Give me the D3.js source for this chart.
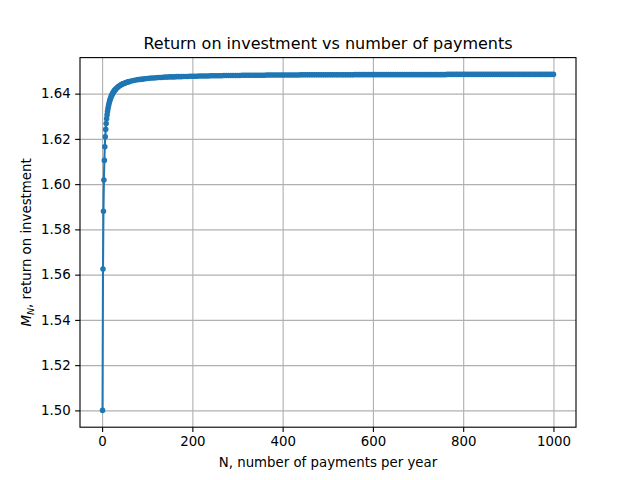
<!DOCTYPE html>
<html>
<head>
<meta charset="utf-8">
<script src="https://cdn.jsdelivr.net/npm/d3@7"></script>
<style>
  body { margin: 0; background: #fff; }
  svg { font-family: "DejaVu Sans", sans-serif; }
</style>
</head>
<body>
<svg id="chart" width="640" height="480"></svg>
<script>
// N, number of payments per year
var payments = [
  1, 2, 3, 4, 5, 6, 7, 8, 9, 10, 11, 12, 13, 14, 15, 16, 17, 18, 19, 20,
  21, 22, 23, 24, 25, 26, 27, 28, 29, 30, 32, 34, 36, 38, 40, 42, 44, 46, 48, 50,
  52, 54, 56, 58, 60, 65, 70, 75, 80, 85, 90, 95, 100, 105, 110, 115, 120, 125, 130, 135,
  140, 145, 150, 155, 160, 165, 170, 175, 180, 185, 190, 195,
  200, 205, 210, 215, 220, 225, 230, 235, 240, 245, 250, 255, 260, 265, 270, 275, 280, 285, 290, 295,
  300, 305, 310, 315, 320, 325, 330, 335, 340, 345, 350, 355, 360, 365, 370, 375, 380, 385, 390, 395,
  400, 405, 410, 415, 420, 425, 430, 435, 440, 445, 450, 455, 460, 465, 470, 475, 480, 485, 490, 495,
  500, 505, 510, 515, 520, 525, 530, 535, 540, 545, 550, 555, 560, 565, 570, 575, 580, 585, 590, 595,
  600, 605, 610, 615, 620, 625, 630, 635, 640, 645, 650, 655, 660, 665, 670, 675, 680, 685, 690, 695,
  700, 705, 710, 715, 720, 725, 730, 735, 740, 745, 750, 755, 760, 765, 770, 775, 780, 785, 790, 795,
  800, 805, 810, 815, 820, 825, 830, 835, 840, 845, 850, 855, 860, 865, 870, 875, 880, 885, 890, 895,
  900, 905, 910, 915, 920, 925, 930, 935, 940, 945, 950, 955, 960, 965, 970, 975, 980, 985, 990, 995,
  1000
]

// M_N, return on investment
var returns = [
  1.5000, 1.5625, 1.5880, 1.6018, 1.6105, 1.6165, 1.6209, 1.6242, 1.6268, 1.6289, 1.6306, 1.6321, 1.6333, 1.6344, 1.6353, 1.6362, 1.6369, 1.6375, 1.6381, 1.6386,
  1.6391, 1.6395, 1.6399, 1.6403, 1.6406, 1.6409, 1.6412, 1.6415, 1.6417, 1.6419, 1.6424, 1.6427, 1.6431, 1.6434, 1.6436, 1.6439, 1.6441, 1.6443, 1.6445, 1.6446,
  1.6448, 1.6449, 1.6451, 1.6452, 1.6453, 1.6456, 1.6458, 1.6460, 1.6462, 1.6463, 1.6464, 1.6466, 1.6467, 1.6468, 1.6469, 1.6469, 1.6470, 1.6471, 1.6471, 1.6472,
  1.6473, 1.6473, 1.6474, 1.6474, 1.6474, 1.6475, 1.6475, 1.6475, 1.6476, 1.6476, 1.6476, 1.6477,
  1.6477, 1.6477, 1.6477, 1.6478, 1.6478, 1.6478, 1.6478, 1.6478, 1.6479, 1.6479, 1.6479, 1.6479, 1.6479, 1.6479, 1.6480, 1.6480, 1.6480, 1.6480, 1.6480, 1.6480,
  1.6480, 1.6480, 1.6481, 1.6481, 1.6481, 1.6481, 1.6481, 1.6481, 1.6481, 1.6481, 1.6481, 1.6481, 1.6481, 1.6482, 1.6482, 1.6482, 1.6482, 1.6482, 1.6482, 1.6482,
  1.6482, 1.6482, 1.6482, 1.6482, 1.6482, 1.6482, 1.6482, 1.6482, 1.6483, 1.6483, 1.6483, 1.6483, 1.6483, 1.6483, 1.6483, 1.6483, 1.6483, 1.6483, 1.6483, 1.6483,
  1.6483, 1.6483, 1.6483, 1.6483, 1.6483, 1.6483, 1.6483, 1.6483, 1.6483, 1.6483, 1.6483, 1.6483, 1.6484, 1.6484, 1.6484, 1.6484, 1.6484, 1.6484, 1.6484, 1.6484,
  1.6484, 1.6484, 1.6484, 1.6484, 1.6484, 1.6484, 1.6484, 1.6484, 1.6484, 1.6484, 1.6484, 1.6484, 1.6484, 1.6484, 1.6484, 1.6484, 1.6484, 1.6484, 1.6484, 1.6484,
  1.6484, 1.6484, 1.6484, 1.6484, 1.6484, 1.6484, 1.6484, 1.6484, 1.6484, 1.6484, 1.6484, 1.6484, 1.6484, 1.6485, 1.6485, 1.6485, 1.6485, 1.6485, 1.6485, 1.6485,
  1.6485, 1.6485, 1.6485, 1.6485, 1.6485, 1.6485, 1.6485, 1.6485, 1.6485, 1.6485, 1.6485, 1.6485, 1.6485, 1.6485, 1.6485, 1.6485, 1.6485, 1.6485, 1.6485, 1.6485,
  1.6485, 1.6485, 1.6485, 1.6485, 1.6485, 1.6485, 1.6485, 1.6485, 1.6485, 1.6485, 1.6485, 1.6485, 1.6485, 1.6485, 1.6485, 1.6485, 1.6485, 1.6485, 1.6485, 1.6485,
  1.6485
]

var xTicks = [0, 200, 400, 600, 800, 1000]
var yTicks = [1.50, 1.52, 1.54, 1.56, 1.58, 1.60, 1.62, 1.64]

var titleText = "Return on investment vs number of payments"
var xLabelText = "N, number of payments per year"

var plotLeft = 80, plotRight = 576, plotTop = 57.6, plotBottom = 427.2
var blue = "#1f77b4"

var points = payments.map(function(n, i) { return { n: n, m: returns[i] } })

// matplotlib style 5% margins
var xMin = d3.min(payments), xMax = d3.max(payments)
var yMin = d3.min(returns), yMax = d3.max(returns)
var xPad = (xMax - xMin) * 0.05, yPad = (yMax - yMin) * 0.05

var x = d3.scaleLinear().domain([xMin - xPad, xMax + xPad]).range([plotLeft, plotRight])
var y = d3.scaleLinear().domain([yMin - yPad, yMax + yPad]).range([plotBottom, plotTop])

var svg = d3.select('#chart')

// grid
svg.append('g')
    .attr('transform', 'translate(0,' + plotBottom + ')')
    .call(d3.axisBottom(x).tickValues(xTicks).tickSize(-(plotBottom - plotTop)).tickFormat(''))
    .call(function(g) { g.select('.domain').remove() })
    .selectAll('line')
    .attr('stroke', '#b0b0b0')
    .attr('stroke-width', 1.11)

svg.append('g')
    .attr('transform', 'translate(' + plotLeft + ',0)')
    .call(d3.axisLeft(y).tickValues(yTicks).tickSize(-(plotRight - plotLeft)).tickFormat(''))
    .call(function(g) { g.select('.domain').remove() })
    .selectAll('line')
    .attr('stroke', '#b0b0b0')
    .attr('stroke-width', 1.11)

// line + markers
var line = d3.line()
    .x(function(d) { return x(d.n) })
    .y(function(d) { return y(d.m) })

svg.append('path')
    .datum(points)
    .attr('d', line)
    .attr('fill', 'none')
    .attr('stroke', blue)
    .attr('stroke-width', 2.08)
    .attr('stroke-linejoin', 'round')
    .attr('stroke-linecap', 'round')

svg.append('g')
    .selectAll('circle')
    .data(points)
    .join('circle')
    .attr('cx', function(d) { return x(d.n) })
    .attr('cy', function(d) { return y(d.m) })
    .attr('r', 2.1)
    .attr('fill', blue)
    .attr('stroke', blue)
    .attr('stroke-width', 1.39)

// axes
var xAxis = svg.append('g')
    .attr('transform', 'translate(0,' + plotBottom + ')')
    .call(d3.axisBottom(x).tickValues(xTicks).tickSize(4.86).tickPadding(4.5).tickFormat(d3.format('d')))
var yAxis = svg.append('g')
    .attr('transform', 'translate(' + plotLeft + ',0)')
    .call(d3.axisLeft(y).tickValues(yTicks).tickSize(4.86).tickPadding(4.5).tickFormat(d3.format('.2f')))

;[xAxis, yAxis].forEach(function(g) {
    g.select('.domain').remove()
    g.selectAll('line').attr('stroke', '#000').attr('stroke-width', 1.11)
    g.selectAll('text')
        .attr('fill', '#000')
        .style('font-size', '13.33px')
        .style('font-family', '"DejaVu Sans", sans-serif')
})

// frame
svg.append('rect')
    .attr('x', plotLeft)
    .attr('y', plotTop)
    .attr('width', plotRight - plotLeft)
    .attr('height', plotBottom - plotTop)
    .attr('fill', 'none')
    .attr('stroke', '#000')
    .attr('stroke-width', 1.11)

// title and labels
svg.append('text')
    .attr('x', (plotLeft + plotRight) / 2)
    .attr('y', 49)
    .attr('text-anchor', 'middle')
    .style('font-size', '16px')
    .text(titleText)

svg.append('text')
    .attr('x', (plotLeft + plotRight) / 2)
    .attr('y', 467)
    .attr('text-anchor', 'middle')
    .style('font-size', '13.33px')
    .text(xLabelText)

var yl = svg.append('text')
    .attr('transform', 'translate(31,' + ((plotTop + plotBottom) / 2) + ') rotate(-90)')
    .attr('text-anchor', 'middle')
    .style('font-size', '13.33px')
yl.append('tspan').style('font-style', 'italic').text('M')
yl.append('tspan').style('font-style', 'italic').style('font-size', '9.5px').attr('dy', 3).text('N')
yl.append('tspan').attr('dy', -3).text(', return on investment')
</script>
</body>
</html>
